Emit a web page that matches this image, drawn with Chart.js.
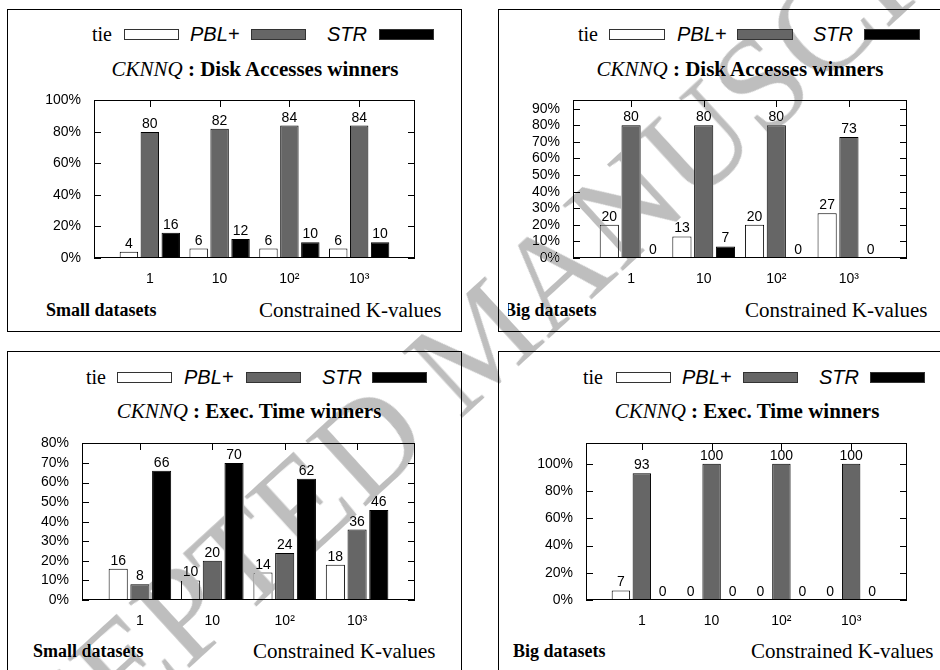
<!DOCTYPE html>
<html>
<head>
<meta charset="utf-8">
<script src="https://cdn.jsdelivr.net/npm/chart.js@4.4.1/dist/chart.umd.min.js"></script>
<style>
body { margin: 0; background: #fff; width: 940px; height: 670px; overflow: hidden; position: relative; font-family: "Liberation Serif", serif; }
.panel { position: absolute; border: 1px solid #000; box-sizing: border-box; }
.txt { position: absolute; white-space: nowrap; line-height: 1; transform: translateY(-50%); color: #000; }
.ctr { transform: translate(-50%, -50%); }
.leg { font-size: 20px; }
.legs { font-family: "Liberation Sans", sans-serif; font-style: italic; font-size: 20px; }
.ttl { font-size: 21px; }
.ttl i { font-style: italic; }
.ttl b { font-weight: bold; }
.set { font-size: 18px; font-weight: bold; }
.kv { font-size: 21px; }
.box { position: absolute; height: 11px; box-sizing: border-box; border: 1px solid #333; }
canvas { position: absolute; }
#wm { position: absolute; left: 480px; top: 340px; transform: translate(-50%, -50%) rotate(-42.5deg);
      font-family: "Liberation Serif", serif; font-size: 135px; color: #bebebe; white-space: nowrap;
      line-height: 1.15; mix-blend-mode: darken; pointer-events: none; }
</style>
</head>
<body>
<script>
/*---- data ----*/
var kValues = ['1', '10', '10\u00b2', '10\u00b3'];
var seriesNames = ['tie', 'PBL+', 'STR'];

// CKNNQ : Disk Accesses winners, small datasets
var diskSmallTie = [4, 6, 6, 6];
var diskSmallPbl = [80, 82, 84, 84];
var diskSmallStr = [16, 12, 10, 10];
// CKNNQ : Disk Accesses winners, big datasets
var diskBigTie = [20, 13, 20, 27];
var diskBigPbl = [80, 80, 80, 73];
var diskBigStr = [0, 7, 0, 0];
// CKNNQ : Exec. Time winners, small datasets
var timeSmallTie = [16, 10, 14, 18];
var timeSmallPbl = [8, 20, 24, 36];
var timeSmallStr = [66, 70, 62, 46];
// CKNNQ : Exec. Time winners, big datasets
var timeBigTie = [7, 0, 0, 0];
var timeBigPbl = [93, 100, 100, 100];
var timeBigStr = [0, 0, 0, 0];

var seriesColors = ['#ffffff', '#666666', '#000000'];

/*---- layout of the four panels (page pixels) ----*/
var panels = [
  { series: [diskSmallTie, diskSmallPbl, diskSmallStr], yMax: 100, yStep: 20,
    border: [7, 9, 455, 323], plot: [94, 99, 415, 258],
    legY: 34, leg: [92, 124, 190, 251, 327, 379], boxW: 55,
    title: 'Disk Accesses winners', titleX: 255, titleY: 68.5,
    set: 'Small datasets', setX: 46, kvX: 259, botY: 309.5 },
  { series: [diskBigTie, diskBigPbl, diskBigStr], yMax: 95, yStep: 10,
    border: [498, 9, 460, 323], plot: [573, 99, 907, 258],
    legY: 34, leg: [578, 609, 677, 737, 813, 864], boxW: 56,
    title: 'Disk Accesses winners', titleX: 740, titleY: 68.5,
    set: 'Big datasets', setX: 504, kvX: 745, botY: 309.5, clipSet: true },
  { series: [timeSmallTie, timeSmallPbl, timeSmallStr], yMax: 80, yStep: 10,
    border: [7, 351, 455, 340], plot: [82, 442, 415, 600],
    legY: 377, leg: [86, 117, 184, 246, 322, 372], boxW: 55,
    title: 'Exec. Time winners', titleX: 249, titleY: 411,
    set: 'Small datasets', setX: 33, kvX: 253, botY: 651 },
  { series: [timeBigTie, timeBigPbl, timeBigStr], yMax: 115, yStep: 20,
    border: [498, 351, 460, 340], plot: [586, 442, 907, 600],
    legY: 377, leg: [583, 616, 682, 743, 819, 870], boxW: 55,
    title: 'Exec. Time winners', titleX: 747, titleY: 410.5,
    set: 'Big datasets', setX: 513, kvX: 751, botY: 651 }
];

Chart.defaults.font.family = '"Liberation Sans", sans-serif';
Chart.defaults.font.size = 14;
Chart.defaults.color = '#000';

/*---- frame, inward ticks and value labels, gnuplot style ----*/
var gnuFrame = {
  id: 'gnuFrame',
  afterDraw: function(chart) {
    var a = chart.chartArea, ctx = chart.ctx;
    var L = Math.round(a.left), R = Math.round(a.right), T = Math.round(a.top), B = Math.round(a.bottom);
    ctx.save();
    ctx.fillStyle = '#000';
    // box
    ctx.fillRect(L, T, R - L, 1);
    ctx.fillRect(L, B - 1, R - L, 1);
    ctx.fillRect(L, T, 1, B - T);
    ctx.fillRect(R - 1, T, 1, B - T);
    // inward ticks, left/right and top
    chart.scales.y.ticks.forEach(function(t) {
      var y = Math.round(chart.scales.y.getPixelForValue(t.value));
      ctx.fillRect(L, y, 7, 1);
      ctx.fillRect(R - 7, y, 7, 1);
    });
    kValues.forEach(function(k, i) {
      var x = Math.round(chart.scales.x.getPixelForValue(i));
      ctx.fillRect(x, T, 1, 7);
    });
    // value above every bar
    ctx.font = '14px "Liberation Sans", sans-serif';
    ctx.textAlign = 'center';
    ctx.textBaseline = 'alphabetic';
    chart.data.datasets.forEach(function(ds, di) {
      chart.getDatasetMeta(di).data.forEach(function(el, i) {
        ctx.fillText(String(ds.data[i].y), el.x, el.y - 4);
      });
    });
    ctx.restore();
  }
};

function addText(cls, html, x, y) {
  var d = document.createElement('div');
  d.className = 'txt ' + cls;
  d.innerHTML = html;
  d.style.left = x + 'px';
  d.style.top = y + 'px';
  document.body.appendChild(d);
  return d;
}

function addBox(x, y, w, bg) {
  var d = document.createElement('div');
  d.className = 'box';
  d.style.left = x + 'px';
  d.style.top = (y - 5) + 'px';
  d.style.width = w + 'px';
  d.style.background = bg;
  document.body.appendChild(d);
}

function makePanel(p) {
  var b = document.createElement('div');
  b.className = 'panel';
  b.style.left = p.border[0] + 'px';
  b.style.top = p.border[1] + 'px';
  b.style.width = p.border[2] + 'px';
  b.style.height = p.border[3] + 'px';
  document.body.appendChild(b);

  // legend: name first, then the sample box
  addText('leg', seriesNames[0], p.leg[0], p.legY);
  addBox(p.leg[1], p.legY, p.boxW, seriesColors[0]);
  addText('legs', seriesNames[1], p.leg[2], p.legY);
  addBox(p.leg[3], p.legY, p.boxW, seriesColors[1]);
  addText('legs', seriesNames[2], p.leg[4], p.legY);
  addBox(p.leg[5], p.legY, p.boxW, seriesColors[2]);

  addText('ttl ctr', '<i>CKNNQ</i> <b>: ' + p.title + '</b>', p.titleX, p.titleY);
  var s = addText('set', p.set, p.setX, p.botY);
  if (p.clipSet) s.style.clipPath = 'inset(-5px -5px -5px 4px)';
  addText('kv', 'Constrained K-values', p.kvX, p.botY);

  var L = p.plot[0], T = p.plot[1], R = p.plot[2], B = p.plot[3];
  var cv = document.createElement('canvas');
  var w = R - L + 100, h = B - T + 60;
  cv.width = w; cv.height = h;
  cv.style.left = (L - 90) + 'px';
  cv.style.top = (T - 20) + 'px';
  cv.style.width = w + 'px';
  cv.style.height = h + 'px';
  document.body.appendChild(cv);

  var datasets = p.series.map(function(vals, si) {
    return {
      label: seriesNames[si],
      data: vals.map(function(v, i) { return { x: i, y: v }; }),
      backgroundColor: seriesColors[si],
      borderColor: '#000',
      borderWidth: 1,
      categoryPercentage: 0.9,
      barPercentage: 0.88
    };
  });

  new Chart(cv, {
    type: 'bar',
    data: { datasets: datasets },
    options: {
      responsive: false,
      animation: false,
      devicePixelRatio: 1,
      layout: { padding: { left: 0, top: 20, right: 10, bottom: 0 } },
      plugins: { legend: { display: false }, tooltip: { enabled: false } },
      scales: {
        x: {
          type: 'linear', offset: false, min: -0.8, max: 3.8,
          grid: { display: false, drawTicks: false, tickLength: 0 }, border: { display: false },
          afterBuildTicks: function(scale) {
            scale.ticks = kValues.map(function(k, i) { return { value: i }; });
          },
          afterFit: function(scale) { scale.height = 40; },
          ticks: { padding: 13, maxRotation: 0, autoSkip: false,
                   callback: function(v) { return kValues[v]; } }
        },
        y: {
          min: 0, max: p.yMax,
          grid: { display: false, drawTicks: false, tickLength: 0 }, border: { display: false },
          afterFit: function(scale) { scale.width = 90; },
          ticks: { stepSize: p.yStep, includeBounds: false, padding: 13, autoSkip: false,
                   callback: function(v) { return v + '%'; } }
        }
      }
    },
    plugins: [gnuFrame]
  });
}

panels.forEach(makePanel);

var wm = document.createElement('div');
wm.id = 'wm';
wm.textContent = 'ACCEPTED MANUSCRIPT';
document.body.appendChild(wm);
</script>
</body>
</html>
